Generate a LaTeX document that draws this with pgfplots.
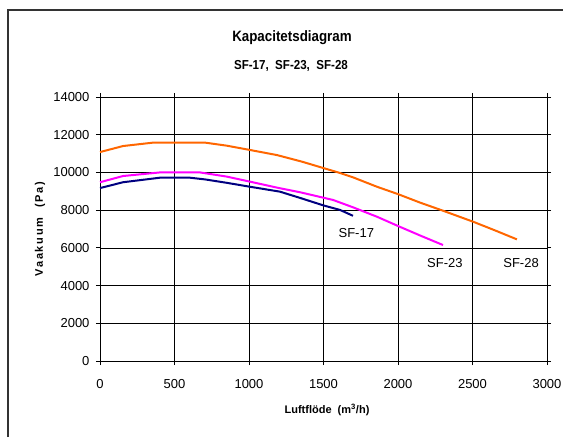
\documentclass[border=0pt]{standalone}
\usepackage{fontspec}
\setmainfont{Liberation Sans}
\newfontfamily\spaced[LetterSpace=16]{Liberation Sans}
\usepackage{pgfplots}
\pgfplotsset{compat=1.18}
\pgfplotsset{/pgf/number format/assume math mode=true}
\definecolor{sforange}{RGB}{255,102,0}
\definecolor{sfmagenta}{RGB}{255,0,255}
\definecolor{sfnavy}{RGB}{0,0,128}
\begin{document}
\begin{tikzpicture}[x=1pt,y=1pt]
\path[use as bounding box] (0,0) rectangle (563,437);
\draw[line width=1.5pt, black!80] (8,0) -- (8,427) -- (563,427);
\node[font=\bfseries\fontsize{15}{17}\selectfont, xscale=0.89] at (292,399) {Kapacitetsdiagram};
\node[font=\bfseries\fontsize{13}{15}\selectfont, xscale=0.89] at (291,371) {SF-17,\ \ SF-23,\ \ SF-28};
\node[font=\spaced\bfseries\fontsize{11}{13}\selectfont, rotate=90] at (40,208) {Vaakuum\ \ (Pa)};
\node[font=\bfseries\fontsize{11}{13}\selectfont] at (327,27) {Luftflöde\ \ (m\textsuperscript{3}/h)};
\begin{axis}[
  at={(100pt,76pt)}, anchor=south west,
  scale only axis, width=447pt, height=264pt,
  xmin=0, xmax=3000, ymin=0, ymax=14000,
  xtick={0,500,...,3000}, ytick={0,2000,...,14000},
  scaled ticks=false,
  xticklabel={\pgfmathprintnumber[assume math mode=true,1000 sep={}]{\tick}},
  yticklabel={\pgfmathprintnumber[assume math mode=true,1000 sep={}]{\tick}},
  grid=major, major grid style={black, line width=0.6pt},
  axis line style={black, line width=0.9pt},
  tick style={black, line width=0.8pt}, tick align=outside,
  major tick length=4pt,
  ticklabel style={font=\fontsize{13}{15}\selectfont},
  xticklabel style={yshift=-11pt},
  yticklabel style={xshift=-3pt},
  clip=false,
]
\addplot[sforange, line width=2pt] coordinates {
(0,11080) (155,11400) (356,11580) (500,11580) (705,11580) (850,11420)
(1007,11190) (1188,10920) (1356,10570) (1500,10230) (1611,9970) (1698,9740)
(1859,9240) (2000,8850) (2148,8400) (2302,7970) (2503,7390) (2650,6930) (2798,6450)};
\addplot[sfmagenta, line width=2pt] coordinates {
(0,9480) (155,9810) (402,10000) (671,10000) (850,9780) (1007,9510) (1208,9160)
(1342,8950) (1564,8540) (1698,8150) (1859,7650) (2000,7160) (2150,6650) (2302,6150)};
\addplot[sfnavy, line width=2pt] coordinates {
(0,9170) (155,9480) (402,9720) (604,9720) (705,9630) (850,9450) (1007,9240) (1208,8980)
(1342,8650) (1500,8250) (1611,8010) (1698,7700)};
\node[font=\fontsize{13}{15}\selectfont] at (axis cs:1720,6790) {SF-17};
\node[font=\fontsize{13}{15}\selectfont] at (axis cs:2315,5200) {SF-23};
\node[font=\fontsize{13}{15}\selectfont] at (axis cs:2826,5200) {SF-28};
\end{axis}
\end{tikzpicture}
\end{document}
